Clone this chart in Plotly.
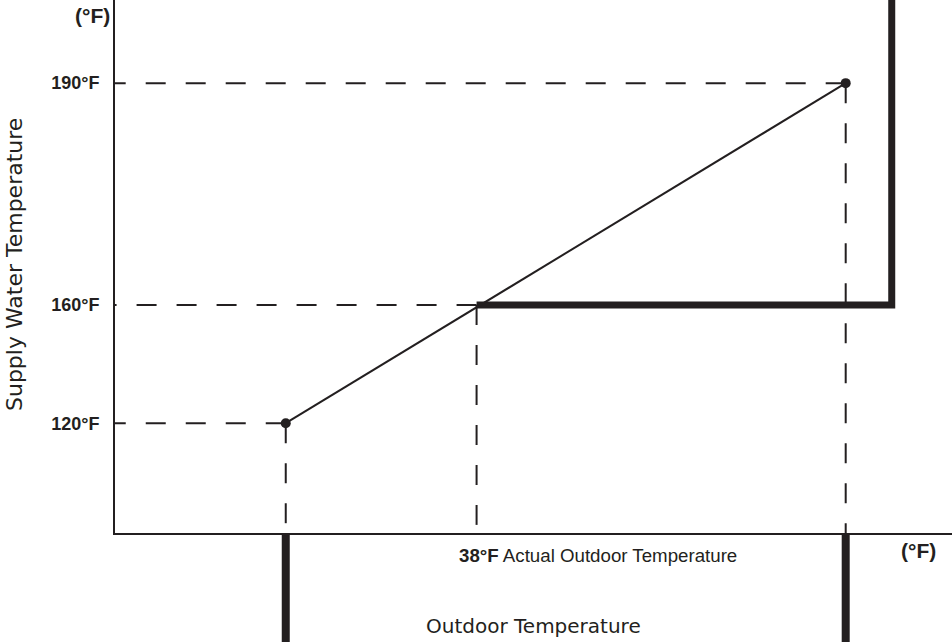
import plotly.graph_objects as go

# Schematic outdoor-reset diagram, chart units 0-100 on both axes
outdoor_pos = [20.4, 43.2, 87.3]          # outdoor temperature positions of the reset curve points
supply_pos = [20.6, 42.8, 84.4]           # supply water temperature positions
supply_labels = ["120°F", "160°F", "190°F"]
actual_outdoor = "38°F"
limit_x = 92.8                             # right limit of the thick boundary

INK = "#231f20"
fig = go.Figure()

# dashed guide lines (drawn from the point toward the axes)
for xp, yp in zip(outdoor_pos, supply_pos):
    fig.add_trace(go.Scatter(x=[xp, 0], y=[yp, yp], mode="lines",
                             line=dict(color=INK, width=2, dash="20px,20px"),
                             hoverinfo="skip", showlegend=False))
    fig.add_trace(go.Scatter(x=[xp, xp], y=[yp, 0], mode="lines",
                             line=dict(color=INK, width=2, dash="20px,20px"),
                             hoverinfo="skip", showlegend=False))

# thick boundary
fig.add_trace(go.Scatter(x=[outdoor_pos[1], limit_x, limit_x], y=[supply_pos[1], supply_pos[1], 100],
                         mode="lines", line=dict(color=INK, width=7),
                         hoverinfo="skip", showlegend=False))

# reset curve
fig.add_trace(go.Scatter(x=[outdoor_pos[0], outdoor_pos[2]], y=[supply_pos[0], supply_pos[2]],
                         mode="lines", line=dict(color=INK, width=2),
                         hoverinfo="skip", showlegend=False))
fig.add_trace(go.Scatter(x=[outdoor_pos[0], outdoor_pos[2]], y=[supply_pos[0], supply_pos[2]],
                         mode="markers", marker=dict(color=INK, size=10),
                         cliponaxis=False, hoverinfo="skip", showlegend=False))

# thick bars below the x axis
for xp in (outdoor_pos[0], outdoor_pos[2]):
    fig.add_shape(type="line", xref="x", yref="paper", x0=xp, x1=xp, y0=0, y1=-0.21,
                  line=dict(color=INK, width=8))

W, H = 952, 642
L, B = 115, 109
pw, ph = W - L, H - B

def px(x):
    return (x - L) / pw

def py(y):
    return (H - B - y) / ph

def note(text, x, y, font, xanchor="center", angle=0):
    fig.add_annotation(text=text, xref="paper", yref="paper", x=px(x), y=py(y),
                       xanchor=xanchor, yanchor="middle", textangle=angle,
                       showarrow=False, font=font)

arial = "Liberation Sans, Arial"
note("<b>(°F)</b>", 92, 15, dict(family=arial, size=21, color=INK))
note("<b>(°F)</b>", 918, 550, dict(family=arial, size=21, color=INK))
note(f"<b>{actual_outdoor}</b> Actual Outdoor Temperature", 457, 555,
     dict(family=arial, size=18.7, color=INK), xanchor="left")
note("Outdoor Temperature", 533, 626, dict(family="DejaVu Sans", size=20, color=INK))
note("Supply Water Temperature", 14, 265, dict(family="DejaVu Sans", size=22, color=INK), angle=-90)

fig.update_xaxes(range=[0, 100], showgrid=False, zeroline=False, showline=True, linecolor=INK,
                 linewidth=2, showticklabels=False, ticks="")
fig.update_yaxes(range=[0, 100], showgrid=False, zeroline=False, showline=True, linecolor=INK,
                 linewidth=2, tickvals=supply_pos, ticktext=[f"<b>{t}</b>" for t in supply_labels],
                 ticks="", ticklabelstandoff=10,
                 tickfont=dict(family=arial, size=18, color=INK))
fig.update_layout(width=W, height=H, margin=dict(l=L, r=0, t=0, b=B),
                  plot_bgcolor="white", paper_bgcolor="white")
fig.write_html("out.html", config={"displayModeBar": False},
               post_script="document.body.style.margin='0px';")
